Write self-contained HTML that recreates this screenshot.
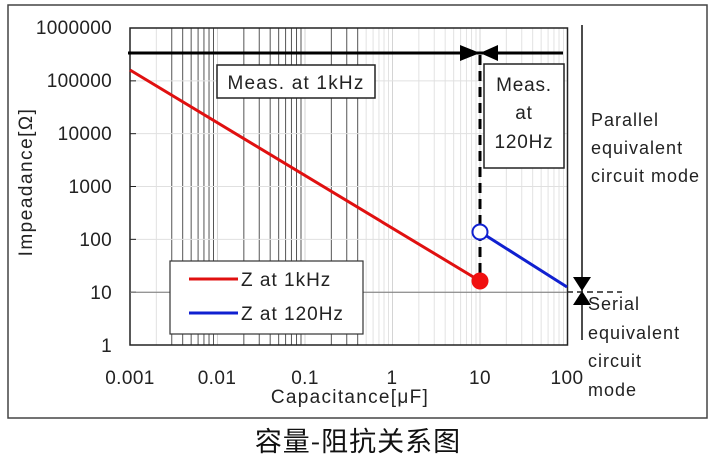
<!DOCTYPE html>
<html><head><meta charset="utf-8"><style>
body{margin:0;background:#fff;}
svg{display:block;font-family:"Liberation Sans",Arial,sans-serif;}
</style></head><body>
<svg id="s" width="717" height="460" viewBox="0 0 717 460" xmlns="http://www.w3.org/2000/svg">
<rect x="8" y="5" width="699" height="413" fill="#fff" stroke="#444" stroke-width="1.5"/>
<g id="grid"></g>
<rect x="130" y="28" width="437.5" height="317" fill="none" stroke="#222" stroke-width="1.5"/>
<line x1="130" y1="292.2" x2="567.5" y2="292.2" stroke="#777" stroke-width="1"/>
<g font-size="19" fill="#222" text-anchor="end" letter-spacing="0.3">
<text x="112" y="34">1000000</text><text x="112" y="87">100000</text><text x="112" y="140">10000</text>
<text x="112" y="193">1000</text><text x="112" y="246">100</text><text x="112" y="299">10</text><text x="112" y="352">1</text>
</g>
<g font-size="19" fill="#222" text-anchor="middle" letter-spacing="0.4">
<text x="130" y="384">0.001</text><text x="217" y="384">0.01</text><text x="305" y="384">0.1</text>
<text x="392" y="384">1</text><text x="480" y="384">10</text><text x="567" y="384">100</text>
<text x="350" y="403" letter-spacing="1.3">Capacitance[μF]</text>
</g>
<text transform="translate(32,182) rotate(-90)" font-size="19" fill="#222" text-anchor="middle" letter-spacing="1.5">Impeadance[Ω]</text>
<line x1="128" y1="53" x2="563" y2="53" stroke="#000" stroke-width="3"/>
<polygon points="460,45 460,61 480,53" fill="#000"/>
<polygon points="498,45 498,61 480,53" fill="#000"/>
<line x1="480" y1="55" x2="480" y2="282" stroke="#000" stroke-width="3" stroke-dasharray="10,6"/>
<rect x="217" y="65" width="158" height="33" fill="#fff" stroke="#222" stroke-width="1.5"/>
<text x="296" y="89" font-size="19" fill="#222" text-anchor="middle" letter-spacing="1.2">Meas. at 1kHz</text>
<rect x="484" y="64" width="80" height="104" fill="#fff" stroke="#222" stroke-width="1.5"/>
<g font-size="19" fill="#222" text-anchor="middle" letter-spacing="0.8"><text x="524" y="91">Meas.</text><text x="524" y="119">at</text><text x="524" y="148">120Hz</text></g>
<line x1="130" y1="70" x2="480" y2="281" stroke="#e01010" stroke-width="3"/>
<line x1="485" y1="235" x2="567" y2="287" stroke="#1020d0" stroke-width="3"/>
<circle cx="480" cy="232" r="7.5" fill="#fff" stroke="#1020d0" stroke-width="2"/>
<circle cx="480" cy="281" r="8.5" fill="#f01010"/>
<rect x="170" y="261" width="193" height="73" fill="#fff" stroke="#333" stroke-width="1.2"/>
<line x1="189" y1="279" x2="238" y2="279" stroke="#e01010" stroke-width="3"/>
<line x1="189" y1="313" x2="238" y2="313" stroke="#1020d0" stroke-width="3"/>
<g font-size="19" fill="#222" letter-spacing="1"><text x="241" y="286">Z at 1kHz</text><text x="241" y="320">Z at 120Hz</text></g>
<line x1="582" y1="25" x2="582" y2="340" stroke="#111" stroke-width="1.5"/>
<polygon points="573,277 591,277 582,291" fill="#000"/>
<polygon points="573,305 591,305 582,291" fill="#000"/>
<line x1="567" y1="292" x2="622" y2="292" stroke="#222" stroke-width="1.5" stroke-dasharray="6,4"/>
<g font-size="18" fill="#222" letter-spacing="1">
<text x="591" y="126">Parallel</text><text x="591" y="154">equivalent</text><text x="591" y="182">circuit mode</text>
<text x="588" y="310">Serial</text><text x="588" y="339">equivalent</text><text x="588" y="367">circuit</text><text x="588" y="396">mode</text>
</g>
<text x="358" y="451" font-size="27" fill="#111" text-anchor="middle" letter-spacing="1" font-family="'Noto Sans CJK SC',sans-serif">容量-阻抗关系图</text>
</svg>
<script>
var g=document.getElementById('grid'),h='';
function X(c){return 130+87.5*(Math.log10(c)+3);}
for(var d=0;d<5;d++){for(var m=1;m<10;m++){var c=Math.pow(10,d-3)*m,x=X(c);
var dark=(d<2&&m>=3)||(d==1&&m>=2)||(d==2&&m>=2&&m<=4);
if(m==1&&d>0){h+='<line x1="'+x+'" y1="28" x2="'+x+'" y2="345" stroke="#d4d4d4" stroke-width="1"/>';continue;}
h+='<line x1="'+x+'" y1="28" x2="'+x+'" y2="345" stroke="'+(dark?'#555':'#e2e2e2')+'" stroke-width="1"/>';}}
for(var e=1;e<6;e++){var y=345-52.83*e;h+='<line x1="130" y1="'+y+'" x2="567.5" y2="'+y+'" stroke="#e0e0e0" stroke-width="1"/><line x1="130" y1="'+y+'" x2="136" y2="'+y+'" stroke="#222"/>';}
g.innerHTML=h;
</script>
</body></html>
